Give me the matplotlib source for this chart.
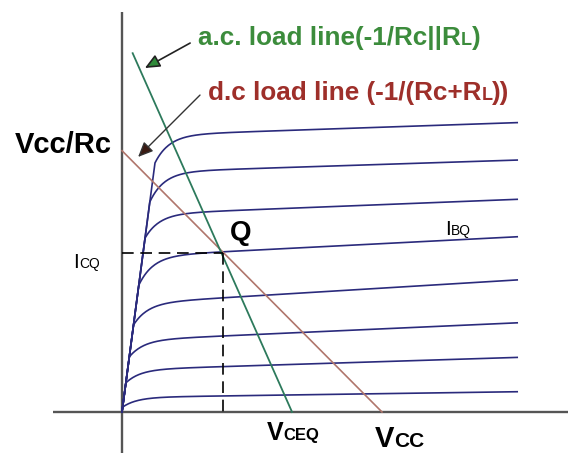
import numpy as np
from matplotlib import pyplot as plt

# collector characteristics (units: V on x, mA on y)
ENV_SLOPE = 7.55                      # saturation envelope, Ic = slope * Vce
ic_depart = [9.58, 8.08, 6.69, 4.88, 3.35, 2.12, 1.12, 0.19]
ic_flat_4v = [10.75, 9.33, 7.74, 6.17, 4.40, 2.93, 1.75, 0.62]
ic_flat_end = [11.13, 9.69, 8.18, 6.74, 5.08, 3.43, 2.10, 0.78]
V_END = 15.2
TAU = 0.55

# load lines
vcc = 10.0
vcc_over_rc = 10.05
ac_v = [0.41, 6.54]
ac_i = [13.8, 0.0]

# operating point
vceq = 3.9
icq = 6.12

CURVE_COLOR = "#2a2a7c"
AC_COLOR = "#2d7a5c"
DC_COLOR = "#b0766c"
AC_TEXT = "#3c8c3c"
DC_TEXT = "#9e2f2a"
FONT = "Liberation Sans"

PX = 26.0  # pixels per unit
fig = plt.figure(figsize=(5.68, 4.53), dpi=100)
ax = fig.add_axes([0, 0, 1, 1])
ax.set_xlim(-122 / PX, (568 - 122) / PX)
ax.set_ylim((412 - 453) / PX, 412 / PX)
ax.axis("off")

# axes lines
ax.plot([0, 0], [-2, 15.38], color="#555555", lw=1.7, solid_capstyle="butt")
ax.plot([-2.65, 18], [0, 0], color="#555555", lw=1.7, solid_capstyle="butt")


def curve(i_dep, a, b):
    slope = (b - a) / (V_END - 4.0)
    flat = lambda v: a + slope * (v - 4.0)
    vd = i_dep / ENV_SLOPE
    v1 = np.linspace(0, vd, 10)
    v2 = np.linspace(vd, V_END, 400)
    i2 = flat(v2) - (flat(vd) - i_dep) * np.exp(-(v2 - vd) / TAU)
    return np.concatenate([v1, v2]), np.concatenate([ENV_SLOPE * v1, i2])


for d, a, b in zip(ic_depart, ic_flat_4v, ic_flat_end):
    v, i = curve(d, a, b)
    ax.plot(v, i, color=CURVE_COLOR, lw=1.2)

# load lines
ax.plot([0, vcc], [vcc_over_rc, 0], color=DC_COLOR, lw=1.2)
ax.plot(ac_v, ac_i, color=AC_COLOR, lw=1.3)

# Q dashed guides
ax.plot([0, vceq], [icq, icq], color="black", lw=1.2, dashes=(7, 4))
ax.plot([vceq, vceq], [icq, 0], color="black", lw=1.2, dashes=(7, 4))


def rich_text(x, y, parts, color="black", weight="normal", ha="left"):
    prev = None
    for s, size in parts:
        kw = dict(fontsize=size, color=color, fontweight=weight,
                  family=FONT, va="baseline")
        if prev is None:
            prev = ax.text(x, y, s, ha=ha, **kw)
        else:
            prev = ax.annotate(s, xy=(1, y), xycoords=(prev, "data"), **kw)
    return prev


rich_text(-0.38, 9.96, [("Vcc/Rc", 21)], weight="bold", ha="right")
rich_text(-1.88, 5.54, [("I", 15), ("CQ", 10)])
rich_text(12.42, 6.81, [("I", 15), ("BQ", 10)])
rich_text(4.15, 6.62, [("Q", 20)], weight="bold")
rich_text(5.58, -1.08, [("V", 18), ("CEQ", 12)], weight="bold")
rich_text(9.73, -1.35, [("V", 21), ("CC", 15)], weight="bold")

rich_text(2.92, 14.12, [("a.c. load line(-1/Rc||R", 18.8), ("L", 13), (")", 18.8)],
          color=AC_TEXT, weight="bold")
rich_text(3.31, 12.0, [("d.c load line (-1/(Rc+R", 18.8), ("L", 13), ("))", 18.8)],
          color=DC_TEXT, weight="bold")

ax.annotate("", xy=(0.88, 13.23), xytext=(2.62, 14.19),
            arrowprops=dict(arrowstyle="-|>,head_length=0.9,head_width=0.4",
                            fc="#2f8a3a", ec="#222222", lw=1.2,
                            shrinkA=0, shrinkB=0))
ax.annotate("", xy=(0.62, 9.81), xytext=(3.0, 12.19),
            arrowprops=dict(arrowstyle="-|>,head_length=0.9,head_width=0.4",
                            fc="#3a1a12", ec="#333333", lw=1.0,
                            shrinkA=0, shrinkB=0))

fig.savefig("out.png", dpi=100)
